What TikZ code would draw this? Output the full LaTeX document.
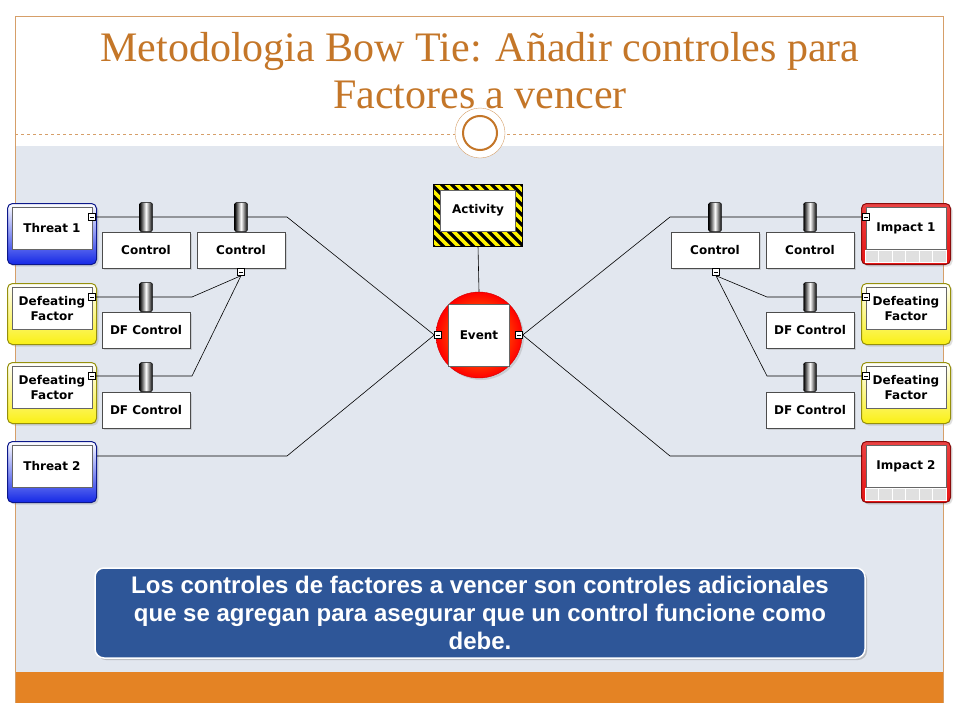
\documentclass[tikz,border=0pt]{standalone}
\usepackage{fontspec}
\setmainfont{Liberation Serif}
\newfontfamily\boxfont{DejaVu Sans}
\newfontfamily\notefont{Liberation Sans}
\usetikzlibrary{positioning, shadows, calc}
\definecolor{titleorange}{RGB}{196,118,40}
\definecolor{panelgrey}{RGB}{226,231,239}
\definecolor{barorange}{RGB}{228,131,36}
\definecolor{noteblue}{RGB}{46,86,152}
\definecolor{threatblue}{RGB}{20,40,230}
\definecolor{dfyellow}{RGB}{250,240,20}
\definecolor{impactred}{RGB}{230,20,20}

\tikzset{
  factor/.style={draw=#1!60!black, rounded corners=5pt, line width=1pt,
    top color=white, bottom color=#1, minimum width=89, minimum height=61,
    drop shadow={opacity=.25, shadow xshift=2pt, shadow yshift=-2pt}},
  face/.style={draw=black!60, fill=white, minimum width=80, minimum height=42,
    anchor=north, align=center, inner sep=1pt,
    font=\boxfont\bfseries\fontsize{12}{15}\selectfont},
  ctrl/.style={draw=black!70, fill=white, minimum width=88, minimum height=36,
    font=\boxfont\bfseries\fontsize{12}{14}\selectfont,
    drop shadow={opacity=.25, shadow xshift=2pt, shadow yshift=-2pt}},
  barrier/.style={draw=black, rounded corners=2pt, minimum width=13,
    minimum height=29, inner sep=0pt, left color=black, right color=black,
    middle color=white},
  handle/.style={draw, fill=white, minimum size=7, inner sep=0pt,
    path picture={\draw ([xshift=1.5pt]path picture bounding box.west)
      -- ([xshift=-1.5pt]path picture bounding box.east);}},
  link/.style={draw=black, line width=.6pt},
}

\newcommand\cells[1]{%
  \fill[black!12] ($(#1.south west)+(4,-15)$) rectangle ($(#1.south east)+(-4,-3)$);
  \foreach \c in {0,...,5}
    \draw[white, line width=.8pt] ($(#1.south west)+(4+\c*13.5,-15)$) rectangle ++(13.5,12);}

\begin{document}
\begin{tikzpicture}[x=1pt, y=-1pt]
  \useasboundingbox (0,0) rectangle (960,720);
  \fill[white] (0,0) rectangle (960,720);

  % slide frame
  \fill[panelgrey] (15,146) rectangle (943,672);
  \fill[barorange] (15,672) rectangle (943,703);
  \draw[titleorange!70, line width=.6pt] (15,16) -- (943,16)
    (15,16) -- (15,703) (943,16) -- (943,703);
  \draw[titleorange!70, dashed, line width=.6pt] (15,134) -- (943,134);
  \node[circle, draw=titleorange!70, fill=white, minimum size=50] (ring) at (480,133) {};
  \node[circle, draw=titleorange, line width=2pt, minimum size=34] at (ring) {};
  \node[text=titleorange, align=center, font=\fontsize{42}{47}\selectfont] (title) at (480,71)
    {Metodologia Bow Tie: Añadir controles para\\Factores a vencer};

  % left side
  \node[factor=threatblue] (thrA) at (52,234) {};
  \node[face, below=4pt of thrA.north, anchor=north] {Threat 1};
  \node[factor=dfyellow] (dfA) at (52,314) {};
  \node[face, below=4pt of dfA.north, anchor=north] {Defeating\\Factor};
  \node[factor=dfyellow] (dfB) at (52,393) {};
  \node[face, below=4pt of dfB.north, anchor=north] {Defeating\\Factor};
  \node[factor=threatblue] (thrB) at (52,472) {};
  \node[face, below=4pt of thrB.north, anchor=north] {Threat 2};

  % right side
  \node[factor=impactred, top color=impactred!80] (impA) at (906,234) {};
  \node[face, below=4pt of impA.north, anchor=north] {Impact 1};
  \cells{impA}
  \node[factor=dfyellow] (dfC) at (906,314) {};
  \node[face, below=4pt of dfC.north, anchor=north] {Defeating\\Factor};
  \node[factor=dfyellow] (dfD) at (906,393) {};
  \node[face, below=4pt of dfD.north, anchor=north] {Defeating\\Factor};
  \node[factor=impactred, top color=impactred!80] (impB) at (906,472) {};
  \node[face, below=4pt of impB.north, anchor=north] {Impact 2};
  \cells{impB}

  % centre
  \node[draw=black, fill=black, minimum width=89, minimum height=62,
    path picture={\foreach \k in {-2,...,16}
      \fill[yellow] ($(path picture bounding box.north west)+(\k*10pt-60pt,0)$)
        -- ++(5pt,0) -- ++(70pt,-70pt) -- ++(-5pt,0) -- cycle;}] (activity) at (478,215) {};
  \node[face, minimum width=75, minimum height=41, below=6pt of activity.north, anchor=north] {Activity};
  \node[circle, draw=red!80!black, minimum size=86, inner color=orange!70!yellow,
    outer color=red, drop shadow={opacity=.25, shadow xshift=2pt, shadow yshift=-2pt}] (event) at (479,335) {};
  \node[face, anchor=center, minimum width=61, minimum height=62] at (event) {Event};
  \draw[link] (activity.south) -- (event.north);

  % controls
  \node[ctrl] (ctlA) at (146,250) {Control};
  \node[ctrl] (ctlB) at (241,250) {Control};
  \node[ctrl] (dfcA) at (146,330) {DF Control};
  \node[ctrl] (dfcB) at (146,410) {DF Control};
  \node[ctrl] (ctlC) at (715,250) {Control};
  \node[ctrl] (ctlD) at (810,250) {Control};
  \node[ctrl] (dfcC) at (810,330) {DF Control};
  \node[ctrl] (dfcD) at (810,410) {DF Control};

  % handles
  \node[handle] (hThrA) at (92,217) {};
  \node[handle] (hDfA) at (92,297) {};
  \node[handle] (hDfB) at (92,376) {};
  \node[handle] (hImpA) at (866,217) {};
  \node[handle] (hDfC) at (866,297) {};
  \node[handle] (hDfD) at (866,376) {};
  \node[handle] (hEvL) at (438,335) {};
  \node[handle] (hEvR) at (519,335) {};
  \node[handle] (hCtlB) at (241,272) {};
  \node[handle] (hCtlC) at (716,272) {};

  \coordinate (kA) at (287,217);
  \coordinate (kB) at (287,456);
  \coordinate (kC) at (192,297);
  \coordinate (kD) at (192,376);
  \coordinate (kE) at (670,217);
  \coordinate (kF) at (670,456);
  \coordinate (kG) at (767,297);
  \coordinate (kH) at (767,376);
  \coordinate (thrBe) at (97,456);
  \coordinate (impBw) at (862,456);

  \draw[link] (hThrA) -- (kA) -- (hEvL.west);
  \draw[link] (thrBe) -- (kB) -- (hEvL.west);
  \draw[link] (hDfA) -- (kC) -- (hCtlB.south);
  \draw[link] (hDfB) -- (kD) -- (hCtlB.south);
  \draw[link] (hImpA) -- (kE) -- (hEvR.east);
  \draw[link] (impBw) -- (kF) -- (hEvR.east);
  \draw[link] (hDfC) -- (kG) -- (hCtlC.south);
  \draw[link] (hDfD) -- (kH) -- (hCtlC.south);

  % barriers
  \foreach \c in {ctlA, ctlB, dfcA, dfcB, ctlC, ctlD, dfcC, dfcD}
    \node[barrier, anchor=south] at (\c.north) {};

  % redraw handles on top of the lines
  \foreach \h in {hThrA,hDfA,hDfB,hImpA,hDfC,hDfD,hEvL,hEvR,hCtlB,hCtlC}
    \node[handle] at (\h) {};

  % note
  \node[rounded corners=9pt, fill=noteblue, draw=white, line width=1.5pt,
    minimum width=770, minimum height=90, align=center, text=white,
    font=\notefont\bfseries\fontsize{24}{28}\selectfont,
    drop shadow={opacity=.4, shadow xshift=2pt, shadow yshift=-2pt}] (note) at (480,613)
    {Los controles de factores a vencer son controles adicionales\\
     que se agregan para asegurar que un control funcione como\\debe.};
\end{tikzpicture}
\end{document}
